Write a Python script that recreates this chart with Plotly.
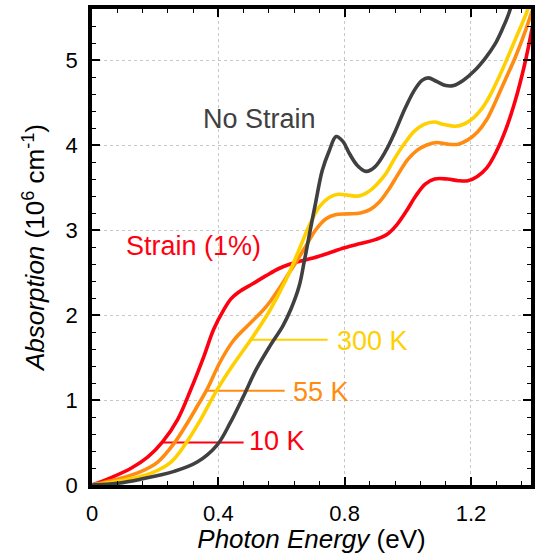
import plotly.graph_objects as go

# ---- data ----
x_nostrain = [0, 0.08, 0.156, 0.26, 0.333, 0.396, 0.4375, 0.479, 0.52, 0.5625, 0.604, 0.63, 0.656,
              0.672, 0.6875, 0.708, 0.729, 0.75, 0.773, 0.795, 0.815, 0.84, 0.868, 0.895, 0.93,
              0.96, 0.99, 1.02, 1.045, 1.065, 1.09, 1.12, 1.145, 1.175, 1.21, 1.245, 1.275, 1.30,
              1.32, 1.34]
y_nostrain = [0, 0.02, 0.07, 0.16, 0.27, 0.47, 0.73, 1.04, 1.36, 1.63, 1.87, 2.07, 2.34,
              2.63, 2.93, 3.32, 3.70, 3.92, 4.10, 4.04, 3.90, 3.76, 3.69, 3.74, 3.93,
              4.16, 4.42, 4.64, 4.76, 4.79, 4.75, 4.70, 4.70, 4.76, 4.87, 5.02, 5.18, 5.37,
              5.55, 5.80]

x_10k = [0, 0.0625, 0.125, 0.177, 0.224, 0.271, 0.3125, 0.354, 0.385, 0.417, 0.44, 0.465, 0.51,
         0.55, 0.594, 0.646, 0.70, 0.75, 0.80, 0.85, 0.90, 0.935, 0.965, 0.995, 1.025, 1.055,
         1.085, 1.125, 1.16, 1.19, 1.22, 1.25, 1.28, 1.31, 1.34, 1.37, 1.395]
y_10k = [0, 0.09, 0.20, 0.33, 0.51, 0.77, 1.12, 1.51, 1.83, 2.06, 2.19, 2.27, 2.37,
         2.46, 2.55, 2.62, 2.67, 2.73, 2.79, 2.84, 2.89, 2.95, 3.06, 3.22, 3.40, 3.54,
         3.60, 3.60, 3.58, 3.58, 3.63, 3.73, 3.92, 4.18, 4.52, 4.95, 5.40]

x_55k = [0, 0.083, 0.156, 0.208, 0.26, 0.302, 0.337, 0.365, 0.406, 0.448, 0.5, 0.54, 0.5625,
         0.594, 0.625, 0.646, 0.677, 0.708, 0.74, 0.77, 0.81, 0.85, 0.88, 0.91, 0.94, 0.97,
         1.0, 1.03, 1.06, 1.09, 1.125, 1.16, 1.19, 1.22, 1.25, 1.28, 1.31, 1.34, 1.37, 1.40]
y_55k = [0, 0.07, 0.16, 0.27, 0.49, 0.73, 0.95, 1.13, 1.45, 1.70, 1.90, 2.05, 2.15,
         2.32, 2.50, 2.62, 2.81, 3.00, 3.13, 3.18, 3.19, 3.20, 3.24, 3.33, 3.48, 3.66,
         3.83, 3.94, 4.00, 4.03, 4.01, 4.01, 4.06, 4.15, 4.30, 4.53, 4.78, 5.03, 5.32, 5.65]

x_300k = [0, 0.104, 0.1875, 0.25, 0.297, 0.344, 0.396, 0.448, 0.505, 0.5625, 0.615, 0.656,
          0.6875, 0.719, 0.75, 0.78, 0.81, 0.845, 0.875, 0.90, 0.93, 0.958, 0.99, 1.02, 1.05,
          1.083, 1.115, 1.15, 1.18, 1.208, 1.235, 1.26, 1.29, 1.315, 1.34, 1.37, 1.39]
y_300k = [0, 0.06, 0.14, 0.27, 0.49, 0.77, 1.12, 1.42, 1.72, 2.05, 2.42, 2.77,
          3.05, 3.27, 3.38, 3.42, 3.41, 3.40, 3.45, 3.53, 3.66, 3.84, 4.02, 4.16, 4.24,
          4.27, 4.24, 4.22, 4.25, 4.32, 4.43, 4.58, 4.81, 5.02, 5.24, 5.50, 5.70]

# label leader lines: [x_start, x_end], y
lead_300k_x = [0.505, 0.746]; lead_300k_y = 1.71
lead_55k_x = [0.365, 0.61];   lead_55k_y = 1.11
lead_10k_x = [0.224, 0.48];   lead_10k_y = 0.50

x_ticks = [0, 0.4, 0.8, 1.2]
x_ticklabels = ["0", "0.4", "0.8", "1.2"]
y_ticks = [0, 1, 2, 3, 4, 5]

C_BLACK = "#404040"
C_YELLOW = "#FFD000"
C_ORANGE = "#FF8C10"
C_RED = "#FF0010"

fig = go.Figure()

def curve(x, y, color):
    fig.add_trace(go.Scatter(x=x, y=y, mode="lines",
                             line=dict(color=color, width=3.6, shape="spline", smoothing=1.0),
                             showlegend=False, hoverinfo="skip"))

def lead(xs, yv, color):
    fig.add_trace(go.Scatter(x=xs, y=[yv, yv], mode="lines",
                             line=dict(color=color, width=2),
                             showlegend=False, hoverinfo="skip"))

lead(lead_300k_x, lead_300k_y, C_YELLOW)
lead(lead_55k_x, lead_55k_y, C_ORANGE)
lead(lead_10k_x, lead_10k_y, C_RED)

curve(x_10k, y_10k, C_RED)
curve(x_55k, y_55k, C_ORANGE)
curve(x_300k, y_300k, C_YELLOW)
curve(x_nostrain, y_nostrain, C_BLACK)

FONT = "Liberation Sans, Arial, sans-serif"

def label(x, y, text, color, anchor="left"):
    fig.add_annotation(x=x, y=y, text=text, showarrow=False, xanchor=anchor, yanchor="middle",
                       font=dict(family=FONT, size=27, color=color))

label(0.77, 1.70, "300 K", C_YELLOW)
label(0.63, 1.10, "55 K", C_ORANGE)
label(0.49, 0.52, "10 K", C_RED)
label(0.53, 4.31, "No Strain", C_BLACK, "center")
label(0.32, 2.81, "Strain (1%)", C_RED, "center")

axis_common = dict(
    showline=True, linecolor="black", linewidth=3.5, mirror="ticks",
    ticks="inside", ticklen=8, tickwidth=1.5, tickcolor="black",
    showgrid=True, gridcolor="#c8c8c8", gridwidth=1, griddash="dot",
    zeroline=False,
    tickfont=dict(family=FONT, size=22, color="black"),
)

fig.update_xaxes(range=[0, 1.39], tickvals=x_ticks, ticktext=x_ticklabels,
                 minor=dict(dtick=0.08, ticks="inside", ticklen=4, tickwidth=1.2, tickcolor="black", showgrid=False),
                 title=dict(text="<i>Photon Energy</i> (eV)", font=dict(family=FONT, size=26, color="black"), standoff=6),
                 ticklabelstandoff=6,
                 **axis_common)
fig.update_yaxes(range=[0, 5.6], tickvals=y_ticks,
                 minor=dict(dtick=0.2, ticks="inside", ticklen=4, tickwidth=1.2, tickcolor="black", showgrid=False),
                 title=dict(text="<i>Absorption</i> (10<sup>6</sup> cm<sup>-1</sup>)",
                            font=dict(family=FONT, size=26, color="black"), standoff=14),
                 ticklabelstandoff=6,
                 **axis_common)

fig.update_layout(width=537, height=554, margin=dict(l=92, r=2, t=9, b=69),
                  plot_bgcolor="white", paper_bgcolor="white", showlegend=False)

fig.write_html("out.html")
